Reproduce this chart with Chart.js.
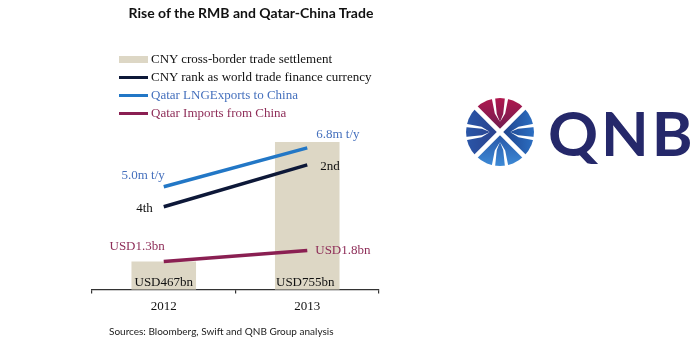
<!DOCTYPE html>
<html>
<head>
<meta charset="utf-8">
<script src="https://cdn.jsdelivr.net/npm/chart.js@4.4.1/dist/chart.umd.min.js"></script>
<style>
  html, body { margin: 0; padding: 0; background: #fff; }
  #wrap { position: relative; width: 692px; height: 338px; overflow: hidden; }
  #chart { position: absolute; left: 0; top: 0; }
  .title { position: absolute; left: 0; width: 502px; top: 4px; text-align: center;
           font: bold 14px Lato, "Open Sans", sans-serif; color: #111; }
  .source { position: absolute; left: 109px; top: 325px; font: 10px Lato, "Open Sans", sans-serif; color: #222; }
  .legend { position: absolute; left: 119px; top: 50px; font: 13px "Liberation Serif", "DejaVu Serif", serif; }
  .legend .row { height: 18px; display: flex; align-items: center; white-space: nowrap; }
  .legend .sw { width: 29px; margin-right: 3px; }
  #logo { position: absolute; left: 462px; top: 93px; }
</style>
</head>
<body>
<div id="wrap">
  <canvas id="chart" width="692" height="338"></canvas>
  <div class="title">Rise of the RMB and Qatar-China Trade</div>
  <div class="legend" id="legend"></div>
  <div class="source">Sources: Bloomberg, Swift and QNB Group analysis</div>
  <svg id="logo" width="230" height="80" viewBox="0 0 230 80">
    <defs id="defs"></defs>
    <g id="mark" transform="translate(38,39)"></g>
    <text x="86" y="63" font-family="Lato, 'Open Sans', sans-serif" font-weight="bold" font-size="62" fill="#25286a" letter-spacing="3">QNB</text>
  </svg>
</div>
<script>
// Years on the category axis
const years = ['2012', '2013'];
// CNY cross-border trade settlement, USD bn
const settlementBn = [467, 755];
// CNY rank as world trade finance currency
const cnyRank = [4, 2];
// Qatar LNG exports to China, million tonnes per year
const lngExports = [5.0, 6.8];
// Qatar imports from China, USD bn
const qatarImports = [1.3, 1.8];

const seriesNames = [
  'CNY cross-border trade settlement',
  'CNY rank as world trade finance currency',
  'Qatar LNGExports to China',
  'Qatar Imports from China'
];

const BEIGE = '#ddd7c5';
const NAVY = '#0d1838';
const BLUE = '#2277c6';
const BLUE_TEXT = '#4570bd';
const MAROON = '#8a1f52';
const MAROON_TEXT = '#8e2d58';

const ordinal = n => n + ({1: 'st', 2: 'nd', 3: 'rd'}[n] || 'th');

// Legend rows
const legendItems = [
  { text: seriesNames[0], color: BEIGE, h: 7, txt: '#111' },
  { text: seriesNames[1], color: NAVY, h: 3, txt: '#111' },
  { text: seriesNames[2], color: BLUE, h: 3, txt: BLUE_TEXT },
  { text: seriesNames[3], color: MAROON, h: 3, txt: MAROON_TEXT }
];
const legendEl = document.getElementById('legend');
legendItems.forEach(it => {
  const row = document.createElement('div');
  row.className = 'row';
  const sw = document.createElement('span');
  sw.className = 'sw';
  sw.style.height = it.h + 'px';
  sw.style.background = it.color;
  const tx = document.createElement('span');
  tx.textContent = it.text;
  tx.style.color = it.txt;
  row.appendChild(sw); row.appendChild(tx);
  legendEl.appendChild(row);
});

// Starburst mark of the logo: four quarter wedges, split by a white X,
// each cut by a white arrowhead pointing to the centre
(function drawMark() {
  const ns = 'http://www.w3.org/2000/svg';
  const defs = document.getElementById('defs');
  const g = document.getElementById('mark');
  const R = 34;
  const sections = [
    { rot: 0, outer: '#b0174e', inner: '#6a1d50' },
    { rot: 90, outer: '#2c6fc2', inner: '#1d3f88' },
    { rot: 180, outer: '#3d8ad6', inner: '#2552a3' },
    { rot: 270, outer: '#2a56a8', inner: '#2a3f8a' }
  ];
  const el = (tag, attrs) => {
    const e = document.createElementNS(ns, tag);
    for (const k in attrs) e.setAttribute(k, attrs[k]);
    return e;
  };
  sections.forEach((s, i) => {
    const grad = el('linearGradient', { id: 'gr' + i, gradientUnits: 'userSpaceOnUse', x1: 0, y1: -R, x2: 0, y2: 0 });
    grad.appendChild(el('stop', { offset: 0, 'stop-color': s.outer }));
    grad.appendChild(el('stop', { offset: 1, 'stop-color': s.inner }));
    defs.appendChild(grad);
    const sec = el('g', { transform: 'rotate(' + s.rot + ')' });
    const a = R * Math.SQRT1_2;
    sec.appendChild(el('path', { d: `M0,0 L${-a},${-a} A${R},${R} 0 0 1 ${a},${-a} Z`, fill: 'url(#gr' + i + ')' }));
    // arrowhead gaps, widening toward the rim
    sec.appendChild(el('polygon', { points: '-9.5,-40 -5.5,-40 -3.2,-18 0,-10 -5.2,-18.5', fill: '#fff' }));
    sec.appendChild(el('polygon', { points: '9.5,-40 5.5,-40 3.2,-18 0,-10 5.2,-18.5', fill: '#fff' }));
    g.appendChild(sec);
  });
  [45, -45].forEach(r => {
    g.appendChild(el('rect', { x: -2.3, y: -40, width: 4.6, height: 80, fill: '#fff', transform: 'rotate(' + r + ')' }));
  });
})();

// Value labels next to the line ends and inside the bars
const valueLabels = {
  id: 'valueLabels',
  afterDatasetsDraw(chart) {
    const ctx = chart.ctx;
    ctx.save();
    ctx.font = '13px "Liberation Serif", "DejaVu Serif", serif';
    ctx.textBaseline = 'middle';
    chart.data.datasets.forEach((ds, di) => {
      const meta = chart.getDatasetMeta(di);
      meta.data.forEach((el, i) => {
        const lab = ds.labelSpec[i];
        ctx.fillStyle = ds.labelColor;
        ctx.textAlign = lab.align;
        const y = ds.type === 'line' ? el.y + lab.dy : chart.chartArea.bottom + lab.dy;
        ctx.fillText(ds.labelText(ds.data[i]), el.x + lab.dx, y);
      });
    });
    ctx.restore();
  }
};

new Chart(document.getElementById('chart'), {
  type: 'bar',
  data: {
    labels: years,
    datasets: [
      {
        label: seriesNames[0],
        data: settlementBn,
        backgroundColor: BEIGE,
        yAxisID: 'ySettle',
        order: 10,
        categoryPercentage: 1,
        barPercentage: 0.45,
        labelColor: '#111',
        labelText: v => 'USD' + v + 'bn',
        labelSpec: [{ align: 'center', dx: 0, dy: -7 }, { align: 'center', dx: -2, dy: -7 }]
      },
      {
        type: 'line',
        label: seriesNames[1],
        data: cnyRank,
        borderColor: NAVY,
        borderWidth: 3.5,
        pointRadius: 0,
        yAxisID: 'yRank',
        order: 2,
        labelColor: '#111',
        labelText: v => ordinal(v),
        labelSpec: [{ align: 'right', dx: -11, dy: 2 }, { align: 'left', dx: 13, dy: 2 }]
      },
      {
        type: 'line',
        label: seriesNames[2],
        data: lngExports,
        borderColor: BLUE,
        borderWidth: 3.5,
        pointRadius: 0,
        yAxisID: 'yLng',
        order: 1,
        labelColor: BLUE_TEXT,
        labelText: v => v.toFixed(1) + 'm t/y',
        labelSpec: [{ align: 'right', dx: 1, dy: -11 }, { align: 'left', dx: 9, dy: -13 }]
      },
      {
        type: 'line',
        label: seriesNames[3],
        data: qatarImports,
        borderColor: MAROON,
        borderWidth: 3.5,
        pointRadius: 0,
        yAxisID: 'yImp',
        order: 1,
        labelColor: MAROON_TEXT,
        labelText: v => 'USD' + v.toFixed(1) + 'bn',
        labelSpec: [{ align: 'right', dx: 1, dy: -15 }, { align: 'left', dx: 8, dy: 0 }]
      }
    ]
  },
  options: {
    responsive: false,
    animation: false,
    layout: { padding: { left: 92, right: 313, top: 130, bottom: 19 } },
    plugins: { legend: { display: false }, tooltip: { enabled: false } },
    scales: {
      x: {
        offset: true,
        grid: { offset: true, drawOnChartArea: false, tickLength: 4, color: '#333', lineWidth: 1.2 },
        border: { color: '#333', width: 1.2 },
        ticks: { color: '#111', padding: 5, font: { family: '"Liberation Serif", "DejaVu Serif", serif', size: 13 } }
      },
      ySettle: { display: false, min: 400, max: 784 },
      yRank: { display: false, reverse: true, min: 0.333, max: 7.952 },
      yLng: { display: false, min: 0.246, max: 7.63 },
      yImp: { display: false, min: 0.027, max: 7.30 }
    }
  },
  plugins: [valueLabels]
});
</script>
</body>
</html>
